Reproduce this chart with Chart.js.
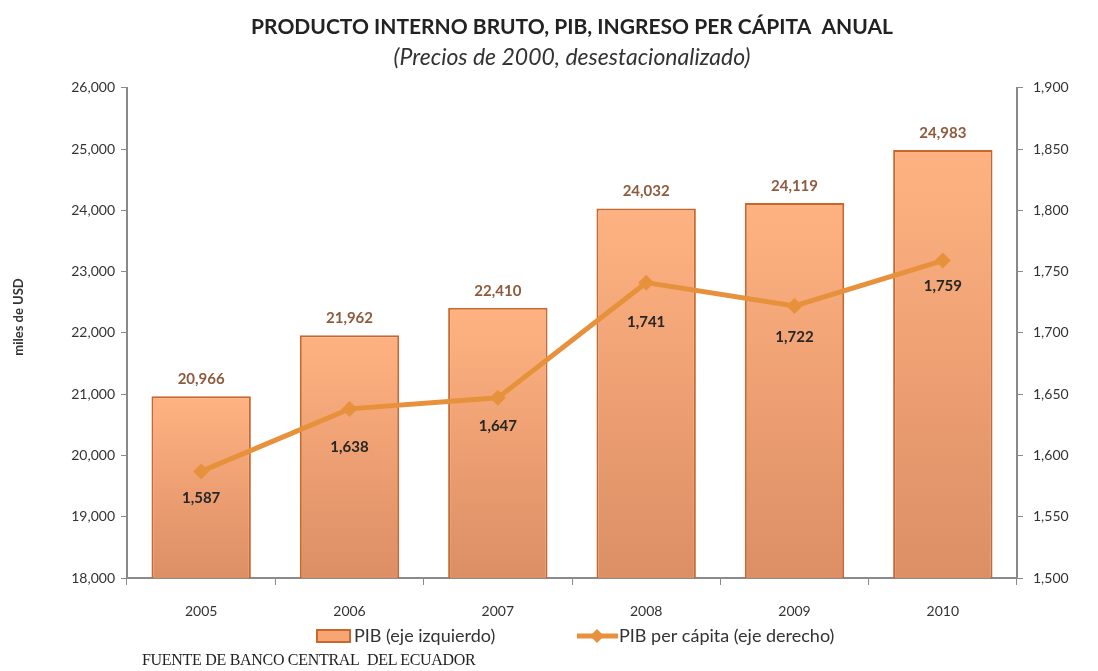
<!DOCTYPE html>
<html>
<head>
<meta charset="utf-8">
<script src="https://cdn.jsdelivr.net/npm/chart.js@4"></script>
<style>
  body { margin: 0; background: #fff; }
  #wrap { position: relative; width: 1098px; height: 671px; }
  #fuente {
    position: absolute; left: 142px; top: 651px;
    font: 16px "Liberation Serif", "Times New Roman", serif; color: #222;
    letter-spacing: -0.3px; white-space: nowrap;
  }
</style>
</head>
<body>
<div id="wrap">
  <canvas id="chart" width="1098" height="671"></canvas>
  <div id="fuente">FUENTE DE BANCO CENTRAL&nbsp; DEL ECUADOR</div>
</div>
<script>
const years = ["2005", "2006", "2007", "2008", "2009", "2010"];
const pib = [20966, 21962, 22410, 24032, 24119, 24983];
const pibPerCapita = [1587, 1638, 1647, 1741, 1722, 1759];
const lineLabelOffset = [27, 38, 28, 40, 31, 26];

const font = "Lato, 'Open Sans', sans-serif";
const lineColor = "#e8913c";

const fmt = (v) => v.toLocaleString("en-US");

const barFill = (ctx) => {
  const chart = ctx.chart;
  if (!chart.chartArea) return "#f4a474";
  const top = chart.scales.y.getPixelForValue(pib[ctx.dataIndex]);
  const g = chart.ctx.createLinearGradient(0, top, 0, chart.chartArea.bottom);
  g.addColorStop(0, "#ffb281");
  g.addColorStop(1, "#dc8e65");
  return g;
};

const extras = {
  id: "extras",
  afterDraw(chart) {
    const c = chart.ctx;
    c.save();
    // bar value labels
    const bars = chart.getDatasetMeta(1).data;
    c.font = "bold 15px " + font;
    c.fillStyle = "#8d5b3d";
    c.textAlign = "center";
    c.textBaseline = "middle";
    bars.forEach((b, i) => c.fillText(fmt(pib[i]), b.x, b.y - 17));
    // line value labels
    const pts = chart.getDatasetMeta(0).data;
    c.fillStyle = "#262626";
    pts.forEach((p, i) => c.fillText(fmt(pibPerCapita[i]), p.x, p.y + lineLabelOffset[i]));
    // y axis title
    c.save();
    c.translate(19, 317);
    c.rotate(-Math.PI / 2);
    c.font = "bold 13px " + font;
    c.fillStyle = "#333";
    c.fillText("miles de USD", 0, 0);
    c.restore();
    // legend
    const ly = 636;
    c.fillStyle = "#f7a573";
    c.strokeStyle = "#c8682e";
    c.lineWidth = 2;
    c.fillRect(317, ly - 6, 33, 12);
    c.strokeRect(317, ly - 6, 33, 12);
    c.font = "18px " + font;
    c.fillStyle = "#333";
    c.textAlign = "left";
    c.fillText("PIB (eje izquierdo)", 354, ly);
    c.strokeStyle = lineColor;
    c.lineWidth = 5;
    c.beginPath();
    c.moveTo(577, ly);
    c.lineTo(618, ly);
    c.stroke();
    c.fillStyle = lineColor;
    c.beginPath();
    c.moveTo(597, ly - 7);
    c.lineTo(604, ly);
    c.lineTo(597, ly + 7);
    c.lineTo(590, ly);
    c.closePath();
    c.fill();
    c.fillStyle = "#333";
    c.fillText("PIB per cápita (eje derecho)", 619, ly);
    c.restore();
  }
};

new Chart(document.getElementById("chart"), {
  type: "bar",
  data: {
    labels: years,
    datasets: [
      {
        type: "line",
        label: "PIB per cápita (eje derecho)",
        data: pibPerCapita,
        yAxisID: "y2",
        borderColor: lineColor,
        backgroundColor: lineColor,
        borderWidth: 5,
        tension: 0,
        pointStyle: "rectRot",
        pointRadius: 8,
        pointBorderWidth: 0,
        order: 0,
      },
      {
        label: "PIB (eje izquierdo)",
        data: pib,
        yAxisID: "y",
        backgroundColor: barFill,
        borderColor: "#c8682e",
        borderWidth: 2,
        borderSkipped: false,
        categoryPercentage: 0.67,
        barPercentage: 1,
        order: 1,
      },
    ],
  },
  options: {
    responsive: false,
    animation: false,
    layout: { padding: { left: 0, right: 0, top: 0, bottom: 48 } },
    plugins: {
      legend: { display: false },
      tooltip: { enabled: false },
      title: {
        display: true,
        text: "PRODUCTO INTERNO BRUTO, PIB, INGRESO PER CÁPITA  ANUAL",
        font: { family: font, size: 21, weight: "bold" },
        color: "#222",
        fullSize: false,
        padding: { top: 15, bottom: 4 },
      },
      subtitle: {
        display: true,
        text: "(Precios de 2000, desestacionalizado)",
        font: { family: font, size: 23, style: "italic" },
        color: "#333",
        fullSize: false,
        padding: { top: 0, bottom: 16 },
      },
    },
    scales: {
      x: {
        grid: { display: true, drawOnChartArea: false, offset: true, tickLength: 7, color: "#8a8a8a" },
        border: { color: "#8a8a8a", width: 2 },
        ticks: { font: { family: font, size: 14 }, color: "#333", padding: 18 },
        afterFit: (s) => { s.height = 45; },
      },
      y: {
        position: "left",
        min: 18000,
        max: 26000,
        ticks: { stepSize: 1000, callback: (v) => fmt(v), font: { family: font, size: 14 }, color: "#333", padding: 6 },
        grid: { drawOnChartArea: false, tickLength: 6, color: "#8a8a8a" },
        border: { color: "#8a8a8a", width: 2 },
        afterFit: (s) => { s.width = 127; },
      },
      y2: {
        position: "right",
        min: 1500,
        max: 1900,
        ticks: { stepSize: 50, callback: (v) => fmt(v), font: { family: font, size: 14 }, color: "#333", padding: 10 },
        grid: { drawOnChartArea: false, tickLength: 6, color: "#8a8a8a" },
        border: { color: "#8a8a8a", width: 2 },
        afterFit: (s) => { s.width = 81; },
      },
    },
  },
  plugins: [extras],
});
</script>
</body>
</html>
